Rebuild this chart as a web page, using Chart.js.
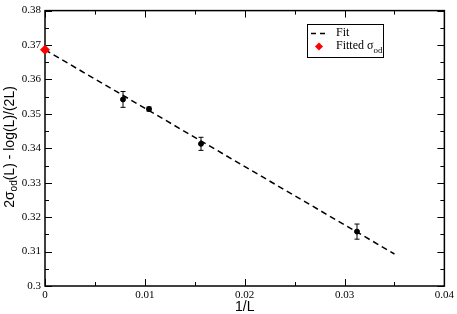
<!DOCTYPE html>
<html><head><meta charset="utf-8">
<script src="https://cdn.jsdelivr.net/npm/chart.js@4.4.1/dist/chart.umd.min.js"></script>
<style>html,body{margin:0;padding:0;background:#fff}#wrap{width:457px;height:314px}</style>
</head><body><div id="wrap"><canvas id="c" width="457" height="314"></canvas></div>
<script>
const invL = [0.0078125, 0.0104167, 0.015625, 0.03125];
const values = [0.3542, 0.3514, 0.3413, 0.3158];
const errors = [0.0023, 0.0006, 0.0019, 0.0022];
const fitX = [0, 0.035];
const fitY = [0.3686, 0.3093];
const fittedSigmaX = [0];
const fittedSigmaY = [0.3686];
const xTicks = [0, 0.01, 0.02, 0.03, 0.04];
const yTicks = [0.3, 0.31, 0.32, 0.33, 0.34, 0.35, 0.36, 0.37, 0.38];

const serif = "'Liberation Serif','Times New Roman',serif";
const sans = "'Liberation Sans',Arial,sans-serif";

const frame = {
  id: 'frame',
  afterDatasetsDraw(chart) {
    const ctx = chart.ctx;
    const xs = chart.scales.x, ys = chart.scales.y;
    ctx.save();
    ctx.strokeStyle = '#000'; ctx.lineWidth = 1;
    for (let i = 0; i < invL.length; i++) {
      const px = xs.getPixelForValue(invL[i]);
      const p1 = ys.getPixelForValue(values[i] - errors[i]);
      const p2 = ys.getPixelForValue(values[i] + errors[i]);
      ctx.beginPath();
      ctx.moveTo(px, p1); ctx.lineTo(px, p2);
      ctx.moveTo(px - 2.5, p1); ctx.lineTo(px + 2.5, p1);
      ctx.moveTo(px - 2.5, p2); ctx.lineTo(px + 2.5, p2);
      ctx.stroke();
    }
    ctx.restore();
  },
  afterDraw(chart) {
    const ctx = chart.ctx, a = chart.chartArea;
    const xs = chart.scales.x, ys = chart.scales.y;
    ctx.save();
    ctx.strokeStyle = '#000';
    ctx.lineWidth = 1.5;
    ctx.strokeRect(a.left, a.top, a.right - a.left, a.bottom - a.top);
    ctx.lineWidth = 1;
    ctx.beginPath();
    for (let i = 0; i < xTicks.length; i++) {
      const px = Math.round(xs.getPixelForValue(xTicks[i])) + 0.5;
      ctx.moveTo(px, a.bottom); ctx.lineTo(px, a.bottom - 7);
      ctx.moveTo(px, a.top); ctx.lineTo(px, a.top + 7);
      if (i < xTicks.length - 1) {
        const pm = Math.round(xs.getPixelForValue((xTicks[i] + xTicks[i + 1]) / 2)) + 0.5;
        ctx.moveTo(pm, a.bottom); ctx.lineTo(pm, a.bottom - 4);
        ctx.moveTo(pm, a.top); ctx.lineTo(pm, a.top + 4);
      }
    }
    for (let i = 0; i < yTicks.length; i++) {
      const py = Math.round(ys.getPixelForValue(yTicks[i])) + 0.5;
      ctx.moveTo(a.left, py); ctx.lineTo(a.left + 7, py);
      ctx.moveTo(a.right, py); ctx.lineTo(a.right - 7, py);
      if (i < yTicks.length - 1) {
        const pm = Math.round(ys.getPixelForValue((yTicks[i] + yTicks[i + 1]) / 2)) + 0.5;
        ctx.moveTo(a.left, pm); ctx.lineTo(a.left + 4, pm);
        ctx.moveTo(a.right, pm); ctx.lineTo(a.right - 4, pm);
      }
    }
    ctx.stroke();

    const dx = xs.getPixelForValue(fittedSigmaX[0]), dy = ys.getPixelForValue(fittedSigmaY[0]);
    ctx.fillStyle = '#ff0000';
    ctx.beginPath();
    ctx.moveTo(dx, dy - 5); ctx.lineTo(dx + 5, dy); ctx.lineTo(dx, dy + 5); ctx.lineTo(dx - 5, dy); ctx.closePath();
    ctx.fill();

    ctx.fillStyle = '#000';
    ctx.font = '14px ' + sans;
    ctx.textAlign = 'center'; ctx.textBaseline = 'middle';
    ctx.fillText('1/L', (a.left + a.right) / 2, 307);

    ctx.save();
    ctx.translate(10, 147);
    ctx.rotate(-Math.PI / 2);
    ctx.textBaseline = 'middle'; ctx.textAlign = 'left';
    const big = '14px ' + sans, small = '10px ' + sans;
    const parts = [['2σ', big, 0], ['od', small, 4], ['(L) - log(L)/(2L)', big, 0]];
    let total = 0;
    parts.forEach(p => { ctx.font = p[1]; total += ctx.measureText(p[0]).width; });
    let cx = -total / 2;
    parts.forEach(p => { ctx.font = p[1]; ctx.fillText(p[0], cx, p[2]); cx += ctx.measureText(p[0]).width; });
    ctx.restore();

    const lx = 307, ly = 24, lw = 76, lh = 33;
    ctx.fillStyle = '#fff';
    ctx.fillRect(lx, ly, lw, lh);
    ctx.lineWidth = 1;
    ctx.strokeStyle = '#000';
    ctx.strokeRect(lx + 0.5, ly + 0.5, lw, lh);
    ctx.lineWidth = 1.5;
    ctx.setLineDash([5, 4]);
    ctx.beginPath(); ctx.moveTo(311, 33.5); ctx.lineTo(327, 33.5); ctx.stroke();
    ctx.setLineDash([]);
    ctx.fillStyle = '#ff0000';
    ctx.beginPath();
    ctx.moveTo(319, 42.5); ctx.lineTo(323, 46.5); ctx.lineTo(319, 50.5); ctx.lineTo(315, 46.5); ctx.closePath(); ctx.fill();
    ctx.fillStyle = '#000';
    ctx.font = '12px ' + serif;
    ctx.textAlign = 'left'; ctx.textBaseline = 'middle';
    ctx.fillText('Fit', 336, 33);
    ctx.fillText('Fitted σ', 336, 46);
    const w = ctx.measureText('Fitted σ').width;
    ctx.font = '9px ' + serif;
    ctx.fillText('od', 336 + w, 51);
    ctx.restore();
  }
};

new Chart(document.getElementById('c'), {
  type: 'scatter',
  data: {
    datasets: [
      {
        label: 'Fit', type: 'line',
        data: fitX.map((x, i) => ({x, y: fitY[i]})),
        borderColor: '#000', borderWidth: 1.5, borderDash: [6, 4],
        pointRadius: 0, fill: false
      },
      {
        label: 'Data',
        data: invL.map((x, i) => ({x, y: values[i]})),
        backgroundColor: '#000', borderColor: '#000', pointRadius: 2.5, pointHoverRadius: 2.5
      },
      {
        label: 'Fitted σod',
        data: fittedSigmaX.map((x, i) => ({x, y: fittedSigmaY[i]})),
        backgroundColor: '#ff0000', borderColor: '#ff0000', pointStyle: 'rectRot', pointRadius: 0
      }
    ]
  },
  options: {
    responsive: false, animation: false,
    layout: {padding: {top: 5, right: 11, left: 0, bottom: 0}},
    plugins: {legend: {display: false}, tooltip: {enabled: false}},
    scales: {
      x: {
        type: 'linear', min: 0, max: 0.04,
        afterFit: s => { s.height = 28; },
        afterBuildTicks: s => { s.ticks = xTicks.map(v => ({value: v})); },
        grid: {display: false, drawTicks: false}, border: {display: false},
        ticks: {color: '#000', font: {family: serif, size: 11}, padding: 3, maxRotation: 0,
          callback: v => String(+v.toFixed(2))}
      },
      y: {
        type: 'linear', min: 0.3, max: 0.38,
        afterFit: s => { s.width = 45; },
        afterBuildTicks: s => { s.ticks = yTicks.map(v => ({value: v})); },
        grid: {display: false, drawTicks: false}, border: {display: false},
        ticks: {color: '#000', font: {family: serif, size: 11}, padding: 4,
          callback: v => String(+v.toFixed(2))}
      }
    }
  },
  plugins: [frame]
});
</script></body></html>
